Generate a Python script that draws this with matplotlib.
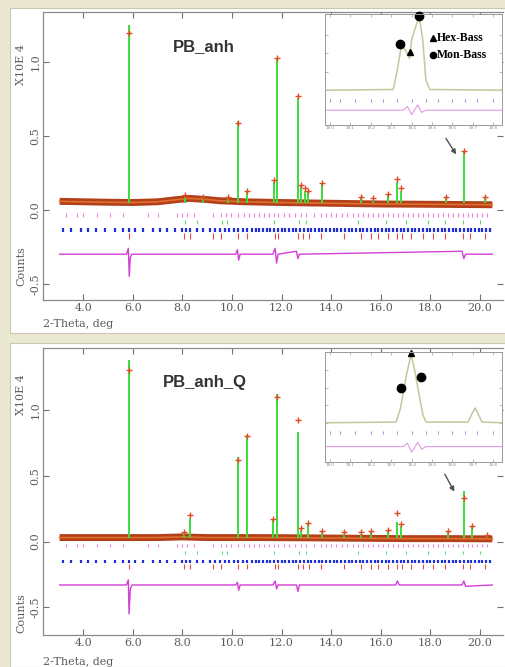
import numpy as np
import matplotlib.pyplot as plt
from matplotlib.patches import Rectangle

# ---- data ----
# x axis ticks (2-theta, deg)
x_ticks = [4.0, 6.0, 8.0, 10.0, 12.0, 14.0, 16.0, 18.0, 20.0]
y_ticks = [-0.5, 0.0, 0.5, 1.0]

# PB_anh : peaks (calc) and observed tops
anh_peak_x = [5.86, 8.1, 8.85, 9.83, 10.23, 10.6, 11.69, 11.8, 12.66, 12.8, 12.95,
              13.07, 13.64, 15.2, 15.7, 16.3, 16.67, 16.83, 18.65, 19.35, 20.2]
anh_peak_y = [1.25, 0.09, 0.08, 0.08, 0.60, 0.12, 0.19, 1.03, 0.76, 0.16, 0.13,
              0.12, 0.18, 0.08, 0.07, 0.10, 0.19, 0.13, 0.08, 0.39, 0.08]
anh_obs_y = [1.20, 0.10, 0.09, 0.09, 0.59, 0.13, 0.20, 1.03, 0.77, 0.17, 0.15,
             0.13, 0.18, 0.09, 0.08, 0.11, 0.21, 0.15, 0.09, 0.40, 0.09]
anh_bg_x = [3.05, 4.0, 5.0, 6.0, 7.0, 7.8, 8.3, 9.0, 9.5, 10.5, 12.0, 14.0, 16.0, 18.0, 20.5]
anh_bg_y = [0.058, 0.055, 0.052, 0.05, 0.055, 0.07, 0.078, 0.07, 0.062, 0.055, 0.05,
            0.045, 0.04, 0.038, 0.035]
anh_diff_x = [3.05, 5.75, 5.82, 5.86, 5.9, 5.97, 10.15, 10.22, 10.27, 10.33, 11.65,
              11.74, 11.8, 11.86, 12.6, 12.66, 12.72, 19.28, 19.35, 19.42, 20.5]
anh_diff_y = [-0.30, -0.30, -0.26, -0.45, -0.32, -0.30, -0.30, -0.27, -0.34, -0.30,
              -0.30, -0.26, -0.36, -0.30, -0.28, -0.33, -0.30, -0.28, -0.33, -0.30, -0.30]

# PB_anh_Q
q_peak_x = [5.85, 8.05, 8.29, 10.23, 10.6, 11.65, 11.8, 12.66, 12.8, 13.07, 13.64,
            14.5, 15.2, 15.6, 16.3, 16.67, 16.8, 18.7, 19.35, 19.67, 20.27]
q_peak_y = [1.38, 0.06, 0.18, 0.64, 0.81, 0.16, 1.12, 0.83, 0.09, 0.13, 0.08,
            0.06, 0.06, 0.07, 0.08, 0.15, 0.12, 0.07, 0.38, 0.11, 0.04]
q_obs_y = [1.30, 0.07, 0.20, 0.62, 0.80, 0.17, 1.10, 0.92, 0.10, 0.14, 0.08,
           0.07, 0.07, 0.08, 0.09, 0.22, 0.13, 0.08, 0.33, 0.12, 0.05]
q_bg_x = [3.05, 5.0, 7.0, 8.0, 9.0, 11.0, 13.0, 15.0, 17.0, 19.0, 20.5]
q_bg_y = [0.03, 0.03, 0.03, 0.035, 0.03, 0.03, 0.028, 0.025, 0.022, 0.022, 0.02]
q_diff_x = [3.05, 5.75, 5.82, 5.85, 5.9, 5.97, 10.15, 10.22, 10.27, 10.33, 11.65,
            11.74, 11.8, 11.86, 12.6, 12.66, 12.72, 16.6, 16.67, 16.74, 19.28, 19.35,
            19.42, 20.5]
q_diff_y = [-0.33, -0.33, -0.29, -0.55, -0.36, -0.33, -0.33, -0.31, -0.37, -0.33,
            -0.33, -0.30, -0.36, -0.33, -0.33, -0.38, -0.33, -0.33, -0.30, -0.33,
            -0.33, -0.30, -0.34, -0.33]

# reflection tick positions (phase rows)
pink_ticks = [3.3, 3.75, 4.0, 4.55, 5.1, 5.6, 6.6, 7.0, 7.8, 8.0, 8.2, 8.45, 9.25,
              9.55, 9.75, 9.95, 10.25, 10.5, 10.7, 10.9, 11.1, 11.3, 11.5, 11.7, 11.85,
              12.1, 12.3, 12.55, 12.8, 13.0, 13.3, 13.6, 13.8, 14.0, 14.2, 14.45, 14.65,
              14.9, 15.1, 15.3, 15.5, 15.7, 15.9, 16.1, 16.3, 16.5, 16.7, 16.9, 17.1,
              17.3, 17.5, 17.7, 17.9, 18.1, 18.3, 18.5, 18.7, 18.9, 19.1, 19.3, 19.5,
              19.7, 19.9, 20.1, 20.3]
blue_ticks = [3.2, 3.5, 3.9, 4.2, 4.5, 4.9, 5.3, 5.6, 5.85, 6.1, 6.4, 6.8, 7.1, 7.4,
              7.7, 8.0, 8.15, 8.3, 8.6, 8.85, 9.1, 9.3, 9.5, 9.7, 9.9, 10.1, 10.25,
              10.45, 10.6, 10.8, 10.95, 11.1, 11.25, 11.4, 11.55, 11.7, 11.85, 12.0,
              12.15, 12.3, 12.45, 12.6, 12.75, 12.9, 13.05, 13.2, 13.35, 13.5, 13.65,
              13.8, 13.95, 14.1, 14.25, 14.4, 14.55, 14.7, 14.85, 15.0, 15.15, 15.3,
              15.45, 15.6, 15.75, 15.9, 16.05, 16.2, 16.35, 16.5, 16.65, 16.8, 16.95,
              17.1, 17.25, 17.4, 17.55, 17.7, 17.85, 18.0, 18.15, 18.3, 18.45, 18.6,
              18.75, 18.9, 19.05, 19.2, 19.35, 19.5, 19.65, 19.8, 19.95, 20.1, 20.25, 20.4]
red_ticks = [5.85, 8.05, 8.3, 9.25, 9.55, 10.25, 10.6, 11.75, 11.85, 12.65, 12.85,
             13.1, 13.6, 14.5, 15.2, 15.6, 15.9, 16.3, 16.65, 16.85, 17.2, 17.7, 18.1,
             18.6, 19.3, 19.6, 20.2]
green_ticks = [8.1, 8.6, 9.6, 9.8, 11.7, 12.7, 13.0, 15.1, 16.2, 17.0, 17.9, 18.6,
               19.3, 20.0]

# insets (zoom on the 19.35 deg peak)
inset_ticks = [19.0, 19.1, 19.2, 19.3, 19.4, 19.5, 19.6, 19.7, 19.8]
anh_in_x = [18.975, 19.31, 19.33, 19.35, 19.37, 19.39, 19.40, 19.437, 19.455, 19.47,
            19.49, 19.844]
anh_in_y = [0.0, 0.01, 0.27, 0.61, 0.54, 0.43, 0.68, 1.0, 0.68, 0.14, 0.01, 0.0]
anh_in_mark_hex = (19.39, 0.51)
anh_in_mark_mon = [(19.345, 0.63), (19.437, 1.0)]
q_in_x = [18.975, 19.324, 19.344, 19.358, 19.378, 19.398, 19.417, 19.437, 19.456,
          19.471, 19.677, 19.697, 19.712, 19.726, 19.746, 19.844]
q_in_y = [0.0, 0.01, 0.19, 0.40, 0.73, 0.97, 0.73, 0.40, 0.11, 0.01, 0.01, 0.13,
          0.21, 0.13, 0.01, 0.0]
q_in_mark_hex = (19.398, 1.0)
q_in_mark_mon = [(19.349, 0.49), (19.447, 0.66)]
in_row_ticks = [19.0, 19.05, 19.12, 19.2, 19.26, 19.33, 19.4, 19.47, 19.53, 19.6,
                19.66, 19.72, 19.8]
in_diff_x = [18.975, 19.36, 19.38, 19.40, 19.43, 19.45, 19.47, 19.844]

W, H = 506, 667
mono = 'DejaVu Serif'
gray = '#5a5a5a'


def fx(px):
    return px / W


def fy(py):
    return 1 - py / H


def draw_panel(ax, px, py, oy, bx, by, dx, dy, ylim, base, d0, arrow):
    ax.set_xlim(2.38, 20.93)
    ax.set_ylim(*ylim)
    # background band (observed + background)
    ax.plot(bx, by, color='#b3401a', lw=5, solid_capstyle='butt', zorder=2)
    ax.plot(bx, by, color='#e0702c', lw=1.2, zorder=2)
    # calculated profile as spikes
    ax.vlines(px, base, py, color='#3ddc3d', lw=1.4, zorder=3)
    ax.plot(px, oy, '+', color='#e04a24', ms=4, mew=1, zorder=4)
    # reflection markers
    ax.vlines(pink_ticks, -0.045, -0.02, color='#f07ee0', lw=0.8)
    ax.vlines(green_ticks, -0.095, -0.07, color='#5ed85e', lw=0.8)
    ax.vlines(blue_ticks, d0 - 0.015, d0 + 0.012, color='#1f2fd8', lw=1.6)
    ax.vlines(red_ticks, d0 - 0.06, d0 - 0.02, color='#e84a3a', lw=0.8)
    # difference curve
    ax.plot(dx, dy, color='#d43fd4', lw=1.0)
    ax.annotate('', xy=arrow[1], xytext=arrow[0],
                arrowprops=dict(arrowstyle='-|>', color='#505050', lw=1.0, mutation_scale=7))

    ax.set_xticks(x_ticks)
    ax.set_xticklabels([f'{t:.1f}' for t in x_ticks], fontsize=8, family=mono, color=gray)
    ax.set_yticks(y_ticks)
    ax.set_yticklabels([f'{t:.1f}' for t in y_ticks], fontsize=8, family=mono, color=gray,
                       rotation=90, va='center')
    ax.tick_params(direction='in', length=4, width=0.8, color='#707070',
                   top=True, right=True, pad=2)
    for s in ['left', 'bottom', 'top']:
        ax.spines[s].set_color('#8a8a8a')
        ax.spines[s].set_linewidth(0.9)
    ax.spines['right'].set_visible(False)


def draw_inset(ax, cx, cy, hex_pt, mon_pts, ylim, row_y, diff_y):
    ax.set_xlim(18.975, 19.844)
    ax.set_ylim(*ylim)
    ax.plot(cx, cy, color='#c4c89a', lw=1.1)
    ax.vlines(in_row_ticks, row_y - 0.02, row_y + 0.02, color='#8c96e6', lw=0.7)
    ax.plot(in_diff_x, diff_y, color='#e39ae3', lw=0.8)
    ax.plot(*hex_pt, '^', color='black', ms=5, clip_on=False)
    for p in mon_pts:
        ax.plot(*p, 'o', color='black', ms=6, clip_on=False)
    ax.set_xticks(inset_ticks)
    ax.set_xticklabels([f'{t:.1f}' for t in inset_ticks], fontsize=3, color='#888888')
    ax.set_yticks([0.0, 0.25, 0.5, 0.75])
    ax.set_yticklabels([])
    ax.tick_params(direction='in', length=2, width=0.5, color='#999999', pad=1,
                   top=True, right=True)
    for s in ax.spines.values():
        s.set_color('#999999')
        s.set_linewidth(0.7)


fig = plt.figure(figsize=(5.06, 6.67), dpi=100)
fig.patch.set_facecolor('#ebe8d2')

# white panel boxes (behind the axes)
fig.patches.append(Rectangle((fx(10), fy(333)), fx(497), 325 / H, transform=fig.transFigure,
                             facecolor='white', edgecolor='#c8c6b4', lw=0.8, zorder=-10))
fig.patches.append(Rectangle((fx(10), 0), fx(497), fy(343), transform=fig.transFigure,
                             facecolor='white', edgecolor='#c8c6b4', lw=0.8, zorder=-10))

ax1 = fig.add_axes([fx(43), fy(300), fx(460), 288 / H])
ax1.patch.set_alpha(0)
draw_panel(ax1, anh_peak_x, anh_peak_y, anh_obs_y, anh_bg_x, anh_bg_y, anh_diff_x,
           anh_diff_y, (-0.61, 1.34), 0.05, -0.135, ((18.57, 0.5), (19.1, 0.36)))

ax2 = fig.add_axes([fx(43), fy(635), fx(460), 287 / H])
ax2.patch.set_alpha(0)
draw_panel(ax2, q_peak_x, q_peak_y, q_obs_y, q_bg_x, q_bg_y, q_diff_x,
           q_diff_y, (-0.71, 1.47), 0.03, -0.15, ((18.53, 0.53), (19.02, 0.36)))

# axis texts (GSAS style)
for mid_e, mid_c, xl in [(65, 266, 324), (395, 613, 662)]:
    fig.text(fx(21), fy(mid_e), 'X10E 4', rotation=90, ha='center', va='center',
             fontsize=8, family=mono, color=gray)
    fig.text(fx(21), fy(mid_c), 'Counts', rotation=90, ha='center', va='center',
             fontsize=8, family=mono, color=gray)
    fig.text(fx(43), fy(xl), '2-Theta, deg', ha='left', va='center',
             fontsize=8, family=mono, color=gray)

fig.text(fx(204), fy(47), 'PB_anh', ha='center', va='center', fontsize=12,
         family='Liberation Sans', weight='bold', color='#333333')
fig.text(fx(205), fy(382), 'PB_anh_Q', ha='center', va='center', fontsize=12,
         family='Liberation Sans', weight='bold', color='#333333')

# insets
in1 = fig.add_axes([fx(325), fy(125), fx(177), 111 / H])
draw_inset(in1, anh_in_x, anh_in_y, anh_in_mark_hex, anh_in_mark_mon, (-0.47, 1.03),
           -0.135, [-0.27, -0.27, -0.22, -0.33, -0.2, -0.3, -0.27, -0.27])
in1.plot(19.505, 0.70, '^', color='black', ms=4.5)
in1.text(19.525, 0.70, 'Hex-Bass', fontsize=8.5, family='Liberation Serif', weight='bold',
         va='center', color='black')
in1.plot(19.505, 0.47, 'o', color='black', ms=4.5)
in1.text(19.525, 0.47, 'Mon-Bass', fontsize=8.5, family='Liberation Serif', weight='bold',
         va='center', color='black')

in2 = fig.add_axes([fx(325), fy(462), fx(177), 110 / H])
draw_inset(in2, q_in_x, q_in_y, q_in_mark_hex, q_in_mark_mon, (-0.56, 1.01),
           -0.14, [-0.34, -0.34, -0.29, -0.42, -0.28, -0.38, -0.34, -0.34])

fig.savefig('out.png', dpi=100, facecolor=fig.get_facecolor())
